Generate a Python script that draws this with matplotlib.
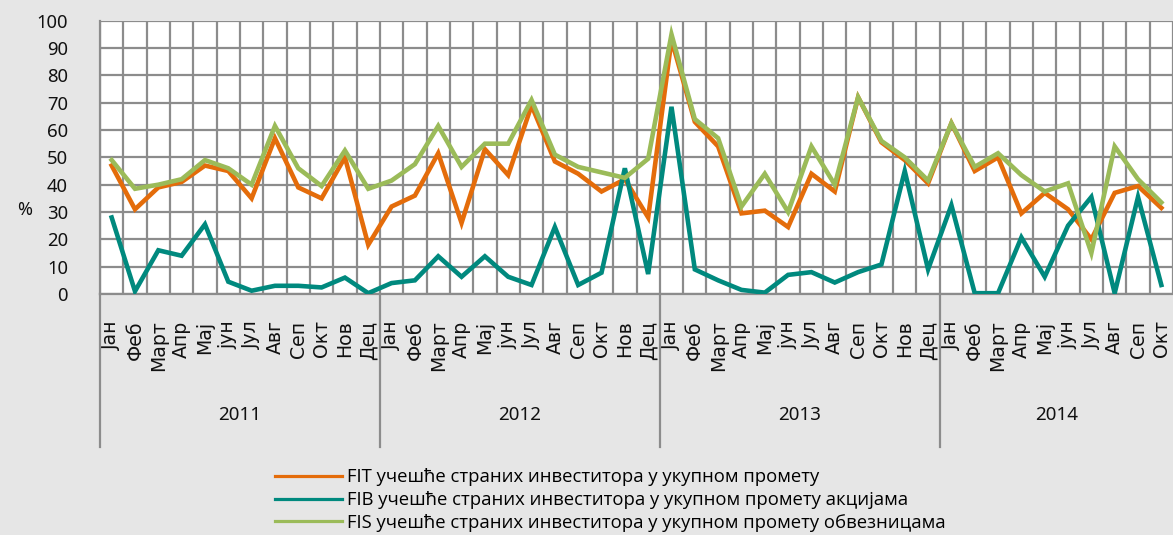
import matplotlib
matplotlib.use("Agg")
import matplotlib.pyplot as plt
import matplotlib.transforms as mtransforms
from matplotlib.lines import Line2D

months = ["Јан", "Феб", "Март", "Апр", "Мај", "јун", "Јул", "Авг", "Сеп", "Окт", "Нов", "Дец"]
years = ["2011", "2012", "2013", "2014"]
months_per_year = [12, 12, 12, 10]

labels = ["FIT учешће страних инвеститора у укупном промету",
          "FIB учешће страних инвеститора у укупном промету акцијама",
          "FIS учешће страних инвеститора у укупном промету обвезницама"]

fit = [47, 31, 39, 41, 47, 45, 35, 57, 39, 35, 50, 18,
       32, 36, 51.5, 26, 53, 43.5, 69, 48.5, 44, 37.5, 42, 28,
       93, 63, 54, 29.5, 30.5, 24.5, 44, 37.5, 72, 55.5, 49, 40.5,
       62.5, 45, 50, 29.5, 37, 31, 20, 37, 39.5, 31.5]
fib = [28, 1, 16, 14, 25.5, 4.5, 1.2, 3, 3, 2.4, 6, 0.3,
       4, 5, 13.8, 6.3, 13.8, 6.3, 3.3, 24.5, 3.3, 7.8, 46, 7.3,
       68.5, 9, 5, 1.5, 0.5, 7, 8, 4.2, 8, 10.8, 45, 9,
       32.5, 0.3, 0.3, 20.7, 6.3, 25, 35.5, 0.3, 35.5, 3.3]
fis = [49, 38.5, 40, 42, 49, 46, 40, 61.5, 46, 39.5, 52.5, 38.5,
       41.5, 47.5, 61.5, 46.5, 55, 55, 71, 51, 46.5, 44.5, 42.5, 49.5,
       95, 64, 57, 32, 44, 30, 54, 40, 72, 56, 50, 41.5,
       62.5, 46.5, 51.5, 43.5, 37.5, 40.5, 15, 54, 42, 33.5]

colors = ["#E46C0A", "#00897E", "#9BBB59"]
grid_c = "#8C8C8C"
bg = "#E6E6E6"

fig = plt.figure(figsize=(11.73, 5.35), dpi=100, facecolor=bg)
ax = fig.add_axes([100 / 1173, 1 - 294 / 535, 1 - 100 / 1173, (294 - 20.7) / 535])
ax.set_facecolor("white")

x = list(range(len(fit)))
for series, c in zip([fit, fib, fis], colors):
    ax.plot(x, series, color=c, lw=3.3, solid_joinstyle="miter", zorder=3)

ax.set_xlim(-0.5, 45.22)
ax.set_ylim(0, 100)

# grid
ax.set_yticks(range(0, 101, 10))
ax.set_xticks([i - 0.5 for i in range(47)], minor=True)
ax.grid(True, which="major", axis="y", color=grid_c, lw=1.6)
ax.grid(True, which="minor", axis="x", color=grid_c, lw=1.6)

tick_labels = []
for n in months_per_year:
    tick_labels += months[:n]
ax.set_xticks(x)
ax.set_xticklabels(tick_labels, rotation=90, fontsize=13.6, family="DejaVu Sans", color="#111111")
ax.tick_params(axis="x", which="both", length=0, pad=19)
ax.tick_params(axis="y", length=0, pad=23, labelsize=13.3, labelcolor="#111111")
for t in ax.get_yticklabels():
    t.set_family("Noto Sans")

for side in ["top", "right"]:
    ax.spines[side].set_visible(False)
for side in ["left", "bottom"]:
    ax.spines[side].set_color(grid_c)
    ax.spines[side].set_linewidth(1.6)

# year separators and labels
trans = mtransforms.blended_transform_factory(ax.transData, ax.transAxes)
bottom = -(447 - 294) / (294 - 20.7)
start = 0
for yr, n in zip(years, months_per_year):
    ax.plot([start - 0.5, start - 0.5], [0, bottom], color=grid_c, lw=1.6,
            transform=trans, clip_on=False)
    ax.text(start + n / 2 - 0.5, -(415 - 294) / (294 - 20.7), yr, transform=trans,
            ha="center", va="center", fontsize=13.5, family="Noto Sans", color="#111111")
    start += n

fig.text(25 / 1173, 1 - 210 / 535, "%", ha="center", va="center", fontsize=13,
         family="Noto Sans", color="#111111")

handles = [Line2D([0], [0], color=c, lw=2.3) for c in colors]
fig.legend(handles, labels, loc="center left", bbox_to_anchor=(275 / 1173, 1 - 500 / 535),
           frameon=False, handlelength=3.6, handletextpad=0.3, labelspacing=0.25,
           borderpad=0, borderaxespad=0,
           prop={"family": "Open Sans", "size": 13.3})

fig.savefig("out.png", dpi=100, facecolor=bg)
